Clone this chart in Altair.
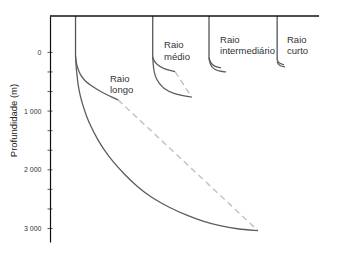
import altair as alt
import pandas as pd

# ---- data (horizontal distance and depth in metres) ----
surface_x = [0, 4584]
surface_y = [-620, -620]

# vertical sections of the four wells
vert_names = ["longo", "medio", "intermediario", "curto"]
vert_x = [435, 1750, 2709, 3870]
vert_top = [-620, -620, -620, -620]
vert_bottom = [60, 77, 94, 128]

# long radius - large curve
longo_big_x = [435, 443, 460, 477, 511, 562, 625, 699, 796, 920, 1074, 1261,
               1477, 1738, 2045, 2317, 2607, 2897, 3181, 3544]
longo_big_y = [60, 230, 383, 554, 724, 912, 1099, 1269, 1457, 1661, 1866, 2070,
               2283, 2482, 2650, 2769, 2880, 2957, 3008, 3037]
# long radius - small (scaled) curve
longo_small_x = [435, 443, 460, 511, 600, 682, 881, 1159]
longo_small_y = [60, 150, 230, 383, 490, 554, 685, 809]
# medium radius
medio_in_x = [1750, 1770, 1818, 1931, 2130]
medio_in_y = [77, 140, 205, 280, 327]
medio_out_x = [1750, 1760, 1789, 1860, 1931, 2101, 2415]
medio_out_y = [77, 250, 412, 530, 610, 710, 763]
# intermediate radius
inter_in_x = [2709, 2735, 2795, 2914]
inter_in_y = [94, 179, 239, 264]
inter_out_x = [2709, 2726, 2795, 2897, 2999]
inter_out_y = [94, 213, 290, 324, 332]
# short radius
curto_in_x = [3870, 3902, 3987]
curto_in_y = [128, 187, 213]
curto_out_x = [3870, 3894, 3945, 4004]
curto_out_y = [157, 213, 239, 247]

# dashed connectors
dash_names = ["longo", "medio"]
dash_x0 = [1159, 2130]
dash_y0 = [809, 327]
dash_x1 = [3544, 2415]
dash_y1 = [3037, 763]

# labels
label_text = ["Raio\nlongo", "Raio\nmédio", "Raio\nintermediário", "Raio\ncurto"]
label_x = [1022, 1943, 2897, 4038]
label_y = [498, -72, -166, -166]

# axis ticks
tick_values = [0, 333, 667, 1000, 1333, 1667, 2000, 2333, 2667, 3000]
label_values = [0, 1000, 2000, 3000]

# ---- build tables ----
rows = []
def add(name, xs, ys):
    for i, (a, b) in enumerate(zip(xs, ys)):
        rows.append({"curve": name, "x": a, "y": b, "o": i})

add("longo_big", longo_big_x, longo_big_y)
add("longo_small", longo_small_x, longo_small_y)
add("medio_in", medio_in_x, medio_in_y)
add("medio_out", medio_out_x, medio_out_y)
add("inter_in", inter_in_x, inter_in_y)
add("inter_out", inter_out_x, inter_out_y)
add("curto_in", curto_in_x, curto_in_y)
add("curto_out", curto_out_x, curto_out_y)
curves = pd.DataFrame(rows)

vrows = []
for n, xx, t, b in zip(vert_names, vert_x, vert_top, vert_bottom):
    vrows.append({"curve": n, "x": xx, "y": t, "o": 0})
    vrows.append({"curve": n, "x": xx, "y": b, "o": 1})
verts = pd.DataFrame(vrows)

drows = []
for n, a, b, c, d in zip(dash_names, dash_x0, dash_y0, dash_x1, dash_y1):
    drows.append({"curve": n, "x": a, "y": b, "o": 0})
    drows.append({"curve": n, "x": c, "y": d, "o": 1})
dashes = pd.DataFrame(drows)

surface = pd.DataFrame({"x": surface_x, "y": surface_y, "o": [0, 1]})
labels = pd.DataFrame({"t": label_text, "x": label_x, "y": label_y})
ticks = pd.DataFrame({"x": [0] * len(tick_values), "y": tick_values})

xs = alt.Scale(domain=[0, 4600], nice=False, zero=False)
ys = alt.Scale(domain=[-620, 3230], reverse=True, nice=False, zero=False)
X = alt.X("x:Q", scale=xs, axis=None)

label_expr = "datum.value == 0 ? '0' : format(datum.value / 1000, 'd') + ' 000'"
y_axis = alt.Axis(
    values=label_values,
    labelExpr=label_expr,
    ticks=False,
    tickSize=0,
    grid=False,
    domain=True,
    domainColor="#111",
    domainWidth=1.2,
    labelFontSize=7,
    labelColor="#333",
    labelFont="Liberation Sans",
    labelPadding=9,
    title="Profundidade (m)",
    titleFontSize=9.5,
    titleFontWeight="normal",
    titleFont="Liberation Sans",
    titleColor="#222",
    titleX=-37,
    titleY=104,
    titleAngle=-90,
    titleAlign="center",
    titleBaseline="middle",
)
Y = alt.Y("y:Q", scale=ys, axis=y_axis)

axis_layer = alt.Chart(ticks).mark_tick(
    orient="horizontal", size=5, thickness=1, color="#111"
).encode(x=X, y=Y)

surface_layer = alt.Chart(surface).mark_line(color="#111", strokeWidth=1.3).encode(
    x=X, y=Y, order="o:Q"
)

vert_layer = alt.Chart(verts).mark_line(color="#555", strokeWidth=1.3).encode(
    x=X, y=Y, detail="curve:N", order="o:Q"
)

curve_layer = alt.Chart(curves).mark_line(
    color="#5c5c5c", strokeWidth=1.3, interpolate="basis"
).encode(x=X, y=Y, detail="curve:N", order="o:Q")

dash_layer = alt.Chart(dashes).mark_line(
    color="#c4c4c4", strokeWidth=1.5, strokeDash=[6, 4]
).encode(x=X, y=Y, detail="curve:N", order="o:Q")

text_layer = alt.Chart(labels).mark_text(
    align="left", baseline="alphabetic", fontSize=9.5, font="Liberation Sans",
    color="#333", lineBreak="\n", lineHeight=11.5
).encode(x=X, y=Y, text="t:N")

chart = alt.layer(
    axis_layer, dash_layer, curve_layer, vert_layer, surface_layer, text_layer
).properties(
    width=270,
    height=226,
    autosize=alt.AutoSizeParams(type="none"),
    padding={"left": 42, "top": 8, "right": 16, "bottom": 15},
    background="white",
).configure_view(stroke=None)

chart.save("out.html", embed_options={"renderer": "svg", "actions": False})
